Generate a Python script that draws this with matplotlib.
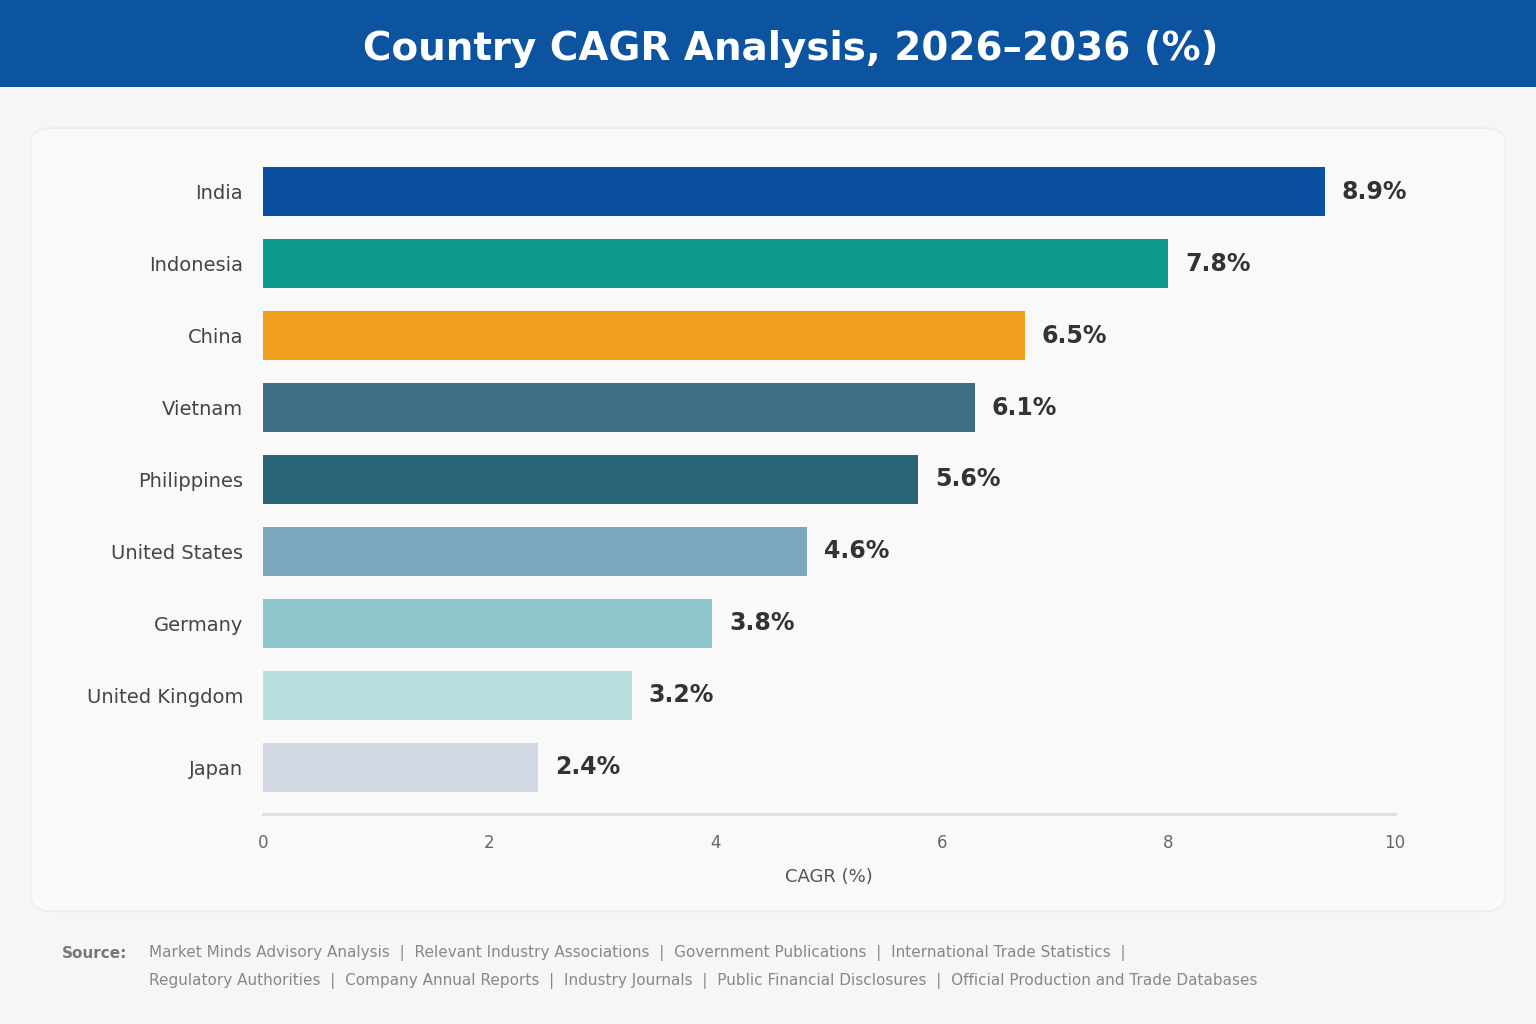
import matplotlib.pyplot as plt
from matplotlib.patches import FancyBboxPatch, Rectangle

countries = ["India", "Indonesia", "China", "Vietnam", "Philippines",
             "United States", "Germany", "United Kingdom", "Japan"]
bar_values = [9.38, 8.0, 6.73, 6.29, 5.79, 4.81, 3.97, 3.26, 2.43]
bar_labels = ["8.9%", "7.8%", "6.5%", "6.1%", "5.6%", "4.6%", "3.8%", "3.2%", "2.4%"]
colors = ["#0a4fa0", "#0e9a8c", "#f0a01c", "#3f6f86", "#2a6478",
          "#7ea8c0", "#8ec7cc", "#b8dfe0", "#d3d9e2"]
xticks = [0, 2, 4, 6, 8, 10]

fig = plt.figure(figsize=(15.36, 10.24), dpi=100)
fig.patch.set_facecolor("#f6f6f6")

# title band
fig.add_artist(Rectangle((0, 0.915), 1, 0.085, transform=fig.transFigure,
                         facecolor="#0d54a0", edgecolor="none", zorder=-2))
fig.text(0.515, 0.952, "Country CAGR Analysis, 2026\u20132036 (%)", ha="center", va="center",
         fontsize=28, fontweight="bold", color="white")

# card
fig.add_artist(FancyBboxPatch((0.02, 0.11), 0.96, 0.765, boxstyle="round,pad=0,rounding_size=0.015",
                              transform=fig.transFigure, facecolor="#f9f9f9",
                              edgecolor="#ececec", linewidth=1, zorder=-2))

ax = fig.add_axes([0.171, 0.205, 0.737, 0.65])
ax.set_facecolor("none")
y = list(range(len(countries)))
ax.barh(y, bar_values, color=colors, height=0.68)
for yi, v, lab in zip(y, bar_values, bar_labels):
    ax.text(v + 0.15, yi, lab, va="center", ha="left", fontsize=17,
            fontweight="bold", color="#333333")
ax.set_yticks(y)
ax.set_yticklabels(countries, fontsize=14, color="#444444")
ax.set_xlim(0, 10)
ax.set_ylim(len(countries) - 0.35, -0.6)
ax.set_xticks(xticks)
ax.set_xticklabels([str(t) for t in xticks], fontsize=12, color="#666666")
ax.set_xlabel("CAGR (%)", fontsize=13, color="#555555", labelpad=12)
for s in ["top", "right", "left"]:
    ax.spines[s].set_visible(False)
ax.spines["bottom"].set_color("#dddddd")
ax.spines["bottom"].set_linewidth(2)
ax.tick_params(axis="both", length=0, pad=14)

fig.text(0.04, 0.069, "Source:", fontsize=11, fontweight="bold", color="#777777", va="center")
fig.text(0.097, 0.069, "Market Minds Advisory Analysis  |  Relevant Industry Associations  |  "
         "Government Publications  |  International Trade Statistics  |",
         fontsize=11, color="#888888", va="center")
fig.text(0.097, 0.042, "Regulatory Authorities  |  Company Annual Reports  |  Industry Journals  |  "
         "Public Financial Disclosures  |  Official Production and Trade Databases",
         fontsize=11, color="#888888", va="center")

fig.savefig("out.png", dpi=100, facecolor=fig.get_facecolor())
